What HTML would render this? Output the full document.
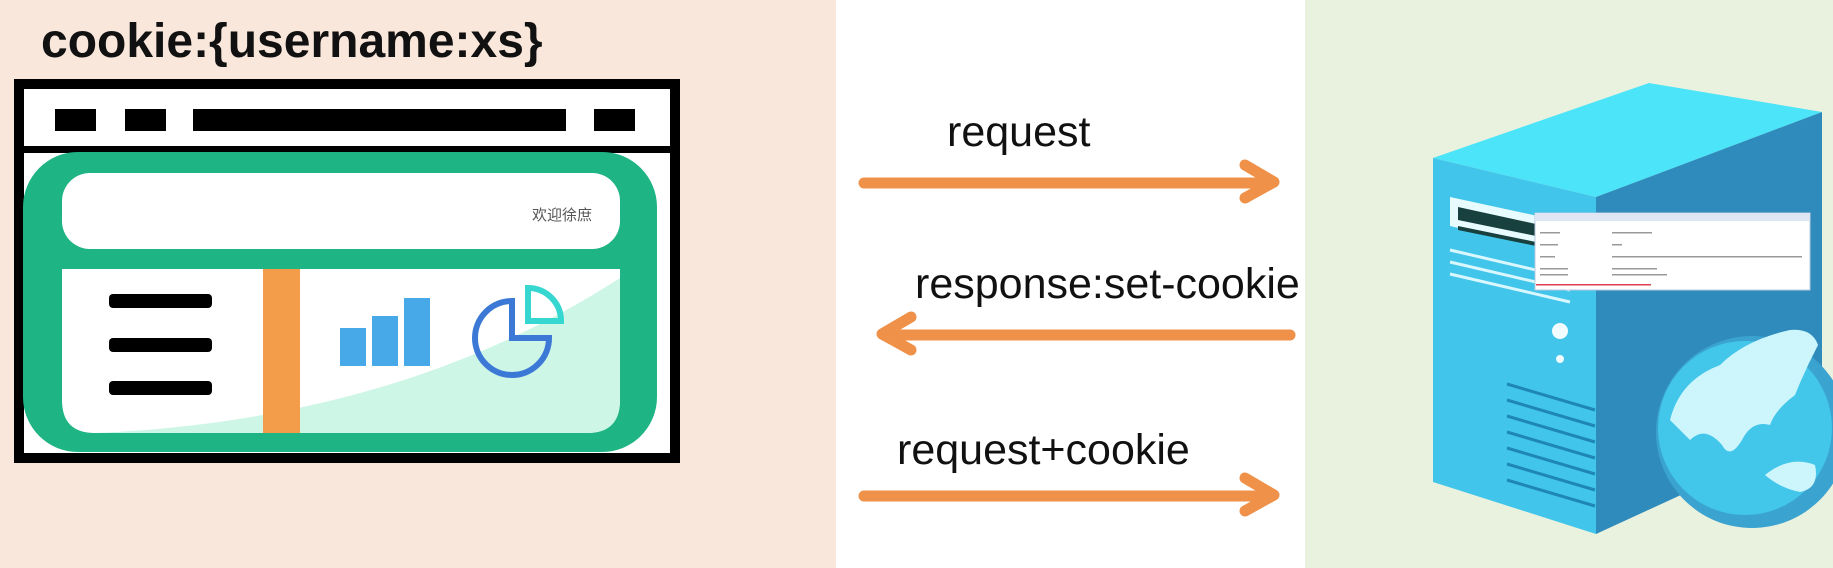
<!DOCTYPE html>
<html><head><meta charset="utf-8"><style>
html,body{margin:0;padding:0}
body{width:1833px;height:568px;overflow:hidden;position:relative;background:#fff;font-family:"Liberation Sans","Noto Sans CJK SC",sans-serif}
</style></head><body>
<svg width="1833" height="568" viewBox="0 0 1833 568" xmlns="http://www.w3.org/2000/svg" style="position:absolute;left:0;top:0">
<rect x="0" y="0" width="836" height="568" fill="#f9e7dc"/>
<rect x="836" y="0" width="469" height="568" fill="#ffffff"/>
<rect x="1305" y="0" width="528" height="568" fill="#e9f1df"/>
<text x="41" y="57" font-size="48" font-weight="bold" fill="#111" font-family="Liberation Sans, sans-serif">cookie:{username:xs}</text>
<!-- browser -->
<rect x="14" y="79" width="666" height="384" fill="#fff"/>
<rect x="19" y="84" width="656" height="374" fill="none" stroke="#000" stroke-width="10"/>
<rect x="14" y="146" width="666" height="7" fill="#000"/>
<rect x="55" y="109" width="41" height="22" fill="#000"/>
<rect x="125" y="109" width="41" height="22" fill="#000"/>
<rect x="193" y="109" width="373" height="22" fill="#000"/>
<rect x="594" y="109" width="41" height="22" fill="#000"/>
<rect x="23" y="152" width="634" height="300" rx="55" fill="#1fb484"/>
<rect x="62" y="173" width="558" height="76" rx="28" fill="#fff"/>
<path d="M62 269 H620 V400 Q620 433 587 433 H95 Q62 433 62 400 Z" fill="#fff"/>
<path d="M95 433 Q400 420 620 278 V400 Q620 433 587 433 Z" fill="#cdf6e6"/>
<rect x="263" y="269" width="37" height="164" fill="#f39d4a"/>
<rect x="109" y="294" width="103" height="14" rx="4" fill="#000"/>
<rect x="109" y="338" width="103" height="14" rx="4" fill="#000"/>
<rect x="109" y="381" width="103" height="14" rx="4" fill="#000"/>
<rect x="340" y="328" width="26" height="38" fill="#47a9e8"/>
<rect x="372" y="316" width="26" height="50" fill="#47a9e8"/>
<rect x="404" y="298" width="26" height="68" fill="#47a9e8"/>
<path d="M512 301 A37 37 0 1 0 549 338 H512 Z" fill="none" stroke="#3c79d6" stroke-width="6"/>
<path d="M528 288 A33 33 0 0 1 561 321 H528 Z" fill="none" stroke="#35d7d0" stroke-width="6"/>
<text x="532" y="220" font-size="15" fill="#555" font-family="Noto Sans CJK SC, sans-serif">欢迎徐庶</text>
<!-- arrows -->
<g stroke="#ef9148" stroke-width="11" fill="none" stroke-linecap="round" stroke-linejoin="round">
<path d="M864 183 H1272 M1245 165 L1274 182 L1245 198"/>
<path d="M1290 335 H884 M911 317 L882 334 L911 350"/>
<path d="M864 496 H1272 M1245 478 L1274 495 L1245 511"/>
</g>
<g font-size="43" fill="#111" font-family="Liberation Sans, sans-serif">
<text x="947" y="146">request</text>
<text x="915" y="298">response:set-cookie</text>
<text x="897" y="464">request+cookie</text>
</g>
<!-- server -->
<polygon points="1433,158 1649,83 1822,112 1596,197" fill="#4be4f8"/>
<polygon points="1433,158 1596,197 1596,534 1433,482" fill="#41c5ea"/>
<polygon points="1596,197 1822,112 1822,430 1596,534" fill="#2f8bbc"/>
<polygon points="1450,197 1538,216 1538,246 1450,226" fill="#e8fbff"/>
<polygon points="1458,207 1536,224 1536,236 1458,220" fill="#18403f"/>
<polygon points="1458,226 1536,242 1536,246 1458,230" fill="#18403f"/>
<g stroke="#d8f7ff" stroke-width="3">
<line x1="1450" y1="250" x2="1570" y2="278"/>
<line x1="1450" y1="262" x2="1570" y2="290"/>
<line x1="1450" y1="274" x2="1570" y2="302"/>
</g>
<circle cx="1560" cy="331" r="8" fill="#f2fdff"/>
<circle cx="1560" cy="359" r="4" fill="#f2fdff"/>
<g stroke="#1f86b8" stroke-width="3">
<line x1="1507" y1="384" x2="1595" y2="410"/>
<line x1="1507" y1="400" x2="1595" y2="426"/>
<line x1="1507" y1="416" x2="1595" y2="442"/>
<line x1="1507" y1="432" x2="1595" y2="458"/>
<line x1="1507" y1="448" x2="1595" y2="474"/>
<line x1="1507" y1="464" x2="1595" y2="490"/>
<line x1="1507" y1="480" x2="1595" y2="506"/>
</g>
<rect x="1535" y="213" width="275" height="77" fill="#fff" stroke="#b8c8e0" stroke-width="1"/>
<rect x="1535" y="213" width="275" height="8" fill="#dde6f2"/>
<g fill="#999">
<rect x="1540" y="232" width="20" height="1.5"/><rect x="1612" y="232" width="40" height="1.5"/>
<rect x="1540" y="244" width="18" height="1.5"/><rect x="1612" y="244" width="10" height="1.5"/>
<rect x="1540" y="256" width="15" height="1.5"/><rect x="1612" y="256" width="190" height="1.5"/>
<rect x="1540" y="268" width="28" height="1.5"/><rect x="1612" y="268" width="45" height="1.5"/>
<rect x="1540" y="274" width="28" height="1.5"/><rect x="1612" y="274" width="55" height="1.5"/>
</g>
<rect x="1536" y="284" width="115" height="1.5" fill="#e04050"/>
<circle cx="1752" cy="432" r="96" fill="#3aa3cf"/>
<circle cx="1745" cy="428" r="87" fill="#42c6ea"/>
<path d="M1670 420 Q1680 380 1720 365 Q1745 340 1790 330 Q1812 328 1818 345 Q1805 370 1795 395 Q1775 410 1770 425 Q1752 420 1742 440 Q1730 460 1722 445 Q1705 425 1690 440 Z" fill="#cdf5fc"/>
<path d="M1765 475 Q1790 455 1815 465 Q1820 488 1800 492 Q1780 488 1765 475 Z" fill="#cdf5fc"/>
</svg>
</body></html>
